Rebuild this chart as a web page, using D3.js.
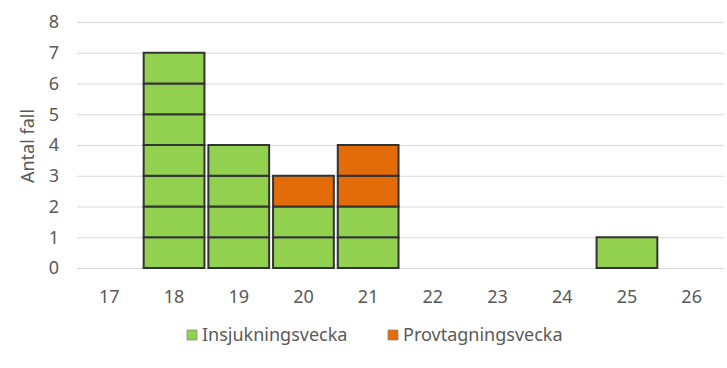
<!DOCTYPE html>
<html><head><meta charset="utf-8">
<script src="https://cdn.jsdelivr.net/npm/d3@7"></script>
<style>body{margin:0;background:#fff}svg{display:block;font-family:"Noto Sans","Open Sans",sans-serif}</style>
</head><body><div id="c"></div>
<script>
const weeks = ["17","18","19","20","21","22","23","24","25","26"];
const insjukning = [0,7,4,2,2,0,0,0,1,0];
const provtagning = [0,0,0,1,2,0,0,0,0,0];
const yTicks = [0,1,2,3,4,5,6,7,8];
const seriesNames = ["Insjukningsvecka","Provtagningsvecka"];
const colors = ["#92D050","#E36C09"];

const W=727,H=368;
const svg=d3.select("#c").append("svg").attr("width",W).attr("height",H);
const x=d3.scaleBand().domain(weeks).range([77,724]).paddingInner(0.03).paddingOuter(0.015);
const y=d3.scaleLinear().domain([0,8]).range([268,22]);

svg.append("g").selectAll("line").data(yTicks).join("line")
  .attr("x1",77).attr("x2",724).attr("y1",d=>y(d)+0.5).attr("y2",d=>y(d)+0.5)
  .attr("stroke","#d9d9d9").attr("stroke-width",1);

svg.append("g").selectAll("text").data(yTicks).join("text")
  .attr("x",59).attr("y",d=>y(d)).attr("dy","0.35em").attr("text-anchor","end")
  .attr("fill","#595959").attr("font-size",18).text(d=>d);

svg.append("g").selectAll("text").data(weeks).join("text")
  .attr("x",d=>x(d)+x.bandwidth()/2).attr("y",297).attr("dy","0.35em").attr("text-anchor","middle")
  .attr("fill","#595959").attr("font-size",18).text(d=>d);

svg.append("text").attr("transform","translate(28,146) rotate(-90)").attr("text-anchor","middle")
  .attr("dy","0.35em").attr("fill","#595959").attr("font-size",18).text("Antal fall");

// unit cells
const cells=[];
weeks.forEach((w,i)=>{
  let base=0;
  [insjukning,provtagning].forEach((s,si)=>{
    for(let k=0;k<s[i];k++){cells.push({w,lvl:base+k,si});}
    base+=s[i];
  });
});
svg.append("g").selectAll("rect").data(cells).join("rect")
  .attr("x",d=>x(d.w)+1).attr("width",x.bandwidth()-2)
  .attr("y",d=>y(d.lvl+1)).attr("height",d=>y(d.lvl)-y(d.lvl+1))
  .attr("fill",d=>colors[d.si]).attr("stroke","#333").attr("stroke-width",2);

// legend
const lg=svg.append("g");
const lx=[187,388];
seriesNames.forEach((n,i)=>{
  lg.append("rect").attr("x",lx[i]).attr("y",330).attr("width",10).attr("height",10)
    .attr("fill",colors[i]).attr("stroke","#7f7f7f").attr("stroke-width",0.7);
  lg.append("text").attr("x",lx[i]+15).attr("y",335).attr("dy","0.35em")
    .attr("fill","#595959").attr("font-size",18).text(n);
});
</script></body></html>
